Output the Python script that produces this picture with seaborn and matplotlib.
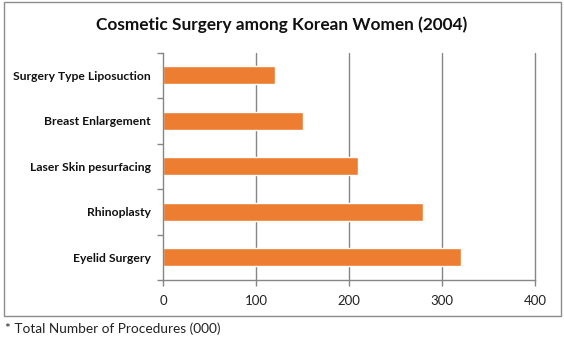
import matplotlib
matplotlib.use("Agg")
import matplotlib.pyplot as plt
from matplotlib.patches import Rectangle
import seaborn as sns
import pandas as pd

procedures = ["Surgery Type Liposuction", "Breast Enlargement",
              "Laser Skin pesurfacing", "Rhinoplasty", "Eyelid Surgery"]
counts = [120, 150, 210, 280, 320]
x_ticks = [0, 100, 200, 300, 400]

sns.set_theme(style="white")
plt.rcParams["font.family"] = ["Lato", "DejaVu Sans"]

W, H = 564, 342
fig = plt.figure(figsize=(W / 100, H / 100), dpi=100)
fig.patch.set_facecolor("white")

# outer chart frame
fig.add_artist(Rectangle((4 / W, 1 - 316 / H), 557 / W, 314 / H,
                         transform=fig.transFigure, fill=False,
                         edgecolor="#8c8c8c", linewidth=1.0))

ax = fig.add_axes([163 / W, 1 - 280 / H, 372 / W, 227.5 / H])
df = pd.DataFrame({"procedure": procedures, "count": counts})
sns.barplot(data=df, x="count", y="procedure", orient="h", color="#ED7D31",
            width=0.4, saturation=1, ax=ax)

ax.set_xlim(0, 400)
ax.set_ylim(len(procedures) - 0.5, -0.5)
ax.set_xticks(x_ticks)
ax.set_xticklabels([str(v) for v in x_ticks], fontsize=9.5, color="#222222")
ax.set_xlabel("")
ax.set_ylabel("")

for v in x_ticks[1:]:
    ax.axvline(v, color="#868686", linewidth=1.0, zorder=0, clip_on=False)

for side in ["top", "right"]:
    ax.spines[side].set_visible(False)
for side in ["left", "bottom"]:
    ax.spines[side].set_color("#868686")
    ax.spines[side].set_linewidth(1.0)

ax.tick_params(axis="x", which="major", length=4, width=1, color="#868686",
               direction="out", pad=7, bottom=True)
ax.tick_params(axis="y", which="major", length=0, pad=9)
ax.set_yticks([i + 0.5 for i in range(-1, len(procedures))], minor=True)
ax.tick_params(axis="y", which="minor", length=4, width=1, color="#868686",
               direction="out", left=True)
for lab in ax.get_yticklabels():
    lab.set_fontweight("bold")
    lab.set_fontsize(8.7)
    lab.set_color("#111111")

fig.text(282 / W, 1 - 25 / H, "Cosmetic Surgery among Korean Women (2004)",
         ha="center", va="center", fontsize=12.4, fontweight="bold",
         color="#111111")
fig.text(5 / W, 1 - 329 / H, "* Total Number of Procedures (000)",
         ha="left", va="center", fontsize=9.8, color="#222222")

fig.savefig("out.png", dpi=100)
